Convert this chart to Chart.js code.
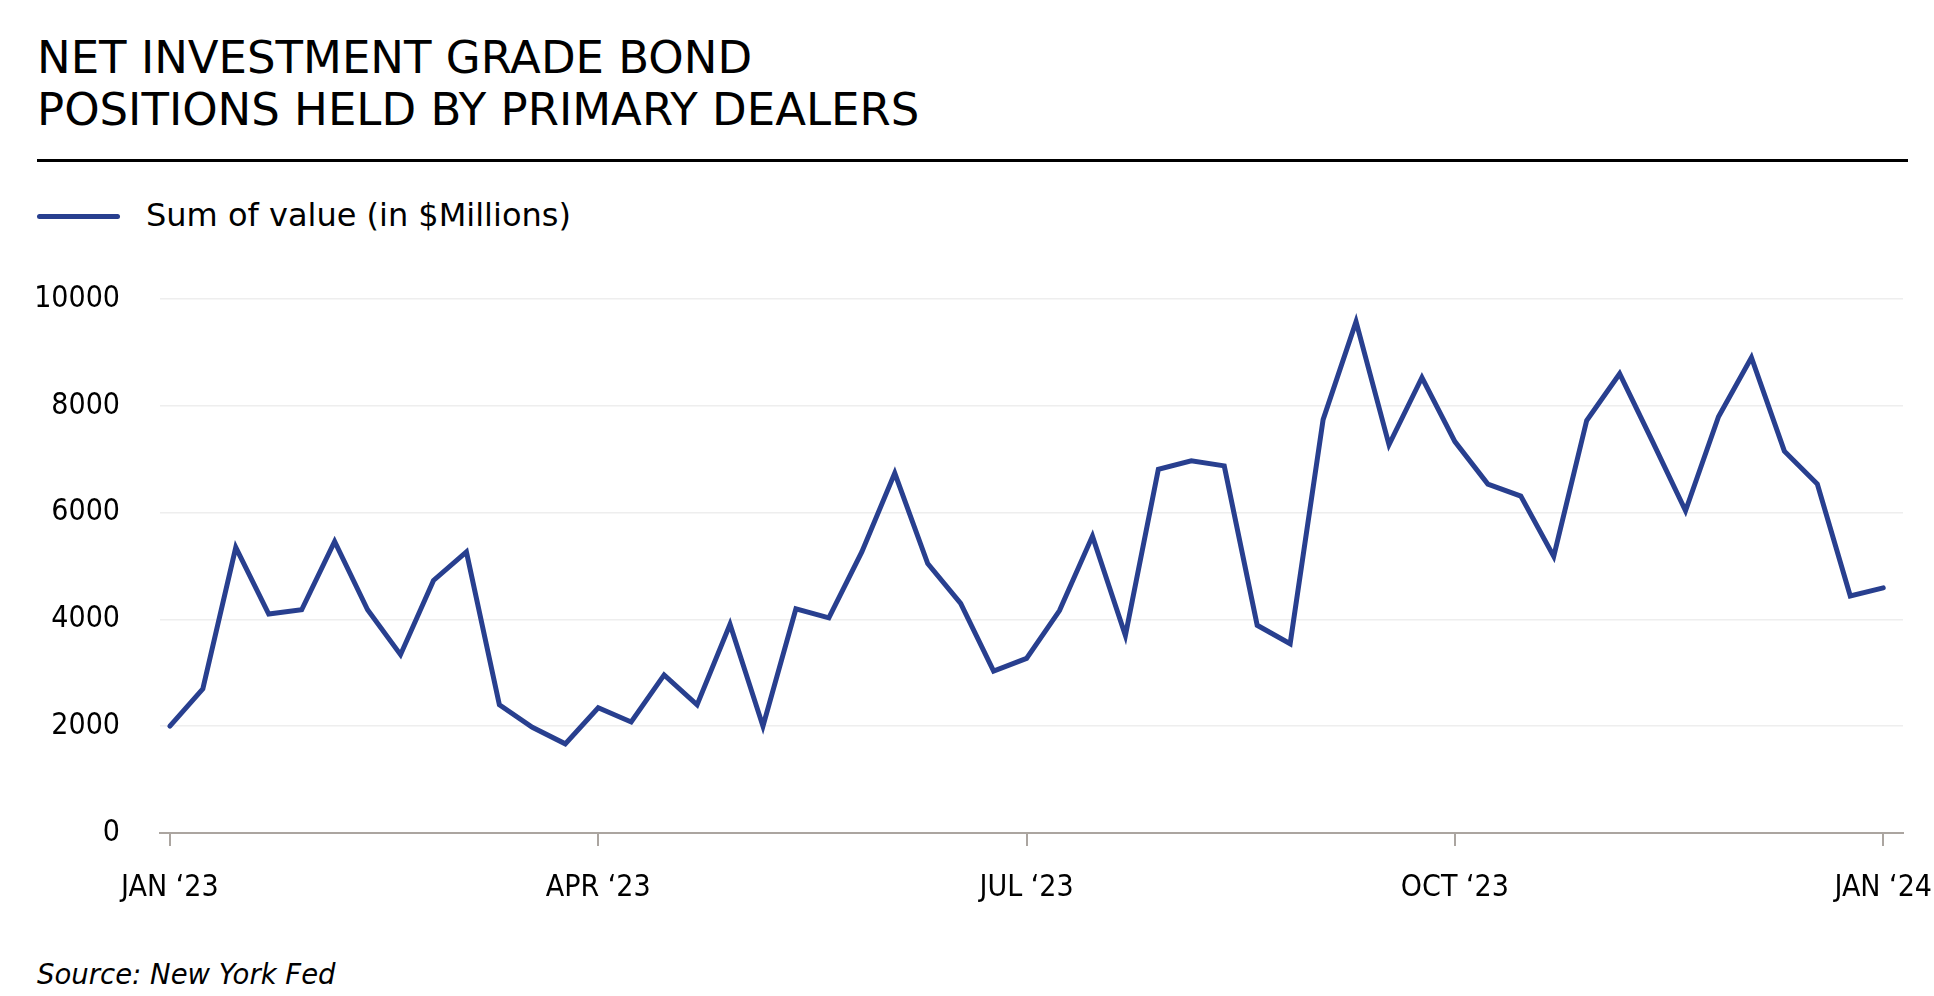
<!DOCTYPE html>
<html>
<head>
<meta charset="utf-8">
<script src="https://cdn.jsdelivr.net/npm/chart.js@4"></script>
<style>
    body { margin: 0; background: #ffffff; width: 1934px; height: 996px; overflow: hidden; position: relative; font-family: "DejaVu Sans", sans-serif; color: #000; }
    .title { position: absolute; left: 37px; top: 32px; font-size: 45px; line-height: 52px; }
    .rule { position: absolute; left: 37px; top: 159px; width: 1871px; height: 3px; background: #000; }
    .legend-line { position: absolute; left: 37px; top: 214px; width: 83px; height: 5px; border-radius: 3px; background: #283f8f; }
    .legend-text { position: absolute; left: 146px; top: 199px; font-size: 32px; line-height: 1; }
    .source { position: absolute; left: 37px; top: 961px; font-size: 27.5px; line-height: 1; font-style: italic; }
    .chart-box { position: absolute; left: 0; top: 260px; width: 1934px; height: 680px; }
</style>
</head>
<body>
<div class="title">NET INVESTMENT GRADE BOND<br>POSITIONS HELD BY PRIMARY DEALERS</div>
<div class="rule"></div>
<div class="legend-line"></div>
<div class="legend-text">Sum of value (in $Millions)</div>
<div class="chart-box"><canvas id="chart"></canvas></div>
<div class="source">Source: New York Fed</div>

<script>
// 每週資料（週三），2023-01-04 到 2024-01-03
const weekDates = [
    "2023-01-04", "2023-01-11", "2023-01-18", "2023-01-25", "2023-02-01", "2023-02-08", "2023-02-15", "2023-02-22",
    "2023-03-01", "2023-03-08", "2023-03-15", "2023-03-22", "2023-03-29", "2023-04-05", "2023-04-12", "2023-04-19",
    "2023-04-26", "2023-05-03", "2023-05-10", "2023-05-17", "2023-05-24", "2023-05-31", "2023-06-07", "2023-06-14",
    "2023-06-21", "2023-06-28", "2023-07-05", "2023-07-12", "2023-07-19", "2023-07-26", "2023-08-02", "2023-08-09",
    "2023-08-16", "2023-08-23", "2023-08-30", "2023-09-06", "2023-09-13", "2023-09-20", "2023-09-27", "2023-10-04",
    "2023-10-11", "2023-10-18", "2023-10-25", "2023-11-01", "2023-11-08", "2023-11-15", "2023-11-22", "2023-11-29",
    "2023-12-06", "2023-12-13", "2023-12-20", "2023-12-27", "2024-01-03"
];

// 淨投資級債券部位（百萬美元）
const netPositions = [
    2000, 2700, 5350, 4100, 4180, 5460, 4180, 3340, 4730, 5265,
    2400, 1980, 1670, 2345, 2080, 2960, 2400, 3910, 2000, 4200,
    4030, 5265, 6740, 5045, 4300, 3030, 3270, 4165, 5560, 3700,
    6810, 6970, 6875, 3890, 3545, 7740, 9575, 7270, 8530, 7330,
    6535, 6310, 5180, 7725, 8600, 7330, 6035, 7795, 8905, 7150,
    6535, 4440, 4590
];

// X 軸只標季度
const tickIndexes = [0, 13, 26, 39, 52];
const tickLabels = ["JAN \u201823", "APR \u201823", "JUL \u201823", "OCT \u201823", "JAN \u201824"];

const yTicks = [0, 2000, 4000, 6000, 8000, 10000];

const LINE_COLOR = "#283f8f";
const AXIS_COLOR = "#aba5a0";
const TICK_FONT = { family: "'DejaVu Sans Condensed', 'DejaVu Sans'", size: 30 };

const points = netPositions.map((value, i) => ({ x: i, y: value, date: weekDates[i] }));

new Chart(document.getElementById("chart"), {
    type: "line",
    data: {
        datasets: [{
            label: "Sum of value (in $Millions)",
            data: points,
            borderColor: LINE_COLOR,
            backgroundColor: LINE_COLOR,
            borderWidth: 5,
            borderJoinStyle: "miter",
            borderCapStyle: "round",
            pointRadius: 0,
            tension: 0
        }]
    },
    options: {
        responsive: true,
        maintainAspectRatio: false,
        animation: false,
        layout: { padding: { top: 39, right: 31, left: 0, bottom: 0 } },
        plugins: { legend: { display: false }, tooltip: { enabled: false } },
        scales: {
            x: {
                type: "linear",
                min: -0.3,
                max: 52.6,
                afterBuildTicks: (scale) => {
                    scale.ticks = tickIndexes.map((v) => ({ value: v }));
                },
                // 不讓最後一個標籤把圖表往內推
                afterFit: (scale) => {
                    scale.height = 107;
                    scale.paddingLeft = 0;
                    scale.paddingRight = 0;
                },
                grid: { drawOnChartArea: false, drawTicks: true, tickLength: 13, color: AXIS_COLOR, lineWidth: 2 },
                border: { display: true, color: AXIS_COLOR, width: 2 },
                ticks: {
                    autoSkip: false,
                    maxRotation: 0,
                    padding: 24,
                    color: "#000",
                    font: TICK_FONT,
                    callback: (value) => tickLabels[tickIndexes.indexOf(value)]
                }
            },
            y: {
                min: 0,
                max: 10000,
                afterBuildTicks: (scale) => {
                    scale.ticks = yTicks.map((v) => ({ value: v }));
                },
                afterFit: (scale) => {
                    scale.width = 160;
                    scale.paddingTop = 0;
                    scale.paddingBottom = 0;
                },
                grid: { drawTicks: false, color: "#eeeeee", lineWidth: 1.5 },
                border: { display: false },
                ticks: {
                    padding: 40,
                    color: "#000",
                    font: TICK_FONT,
                    callback: (value) => String(value)
                }
            }
        }
    }
});
</script>
</body>
</html>
